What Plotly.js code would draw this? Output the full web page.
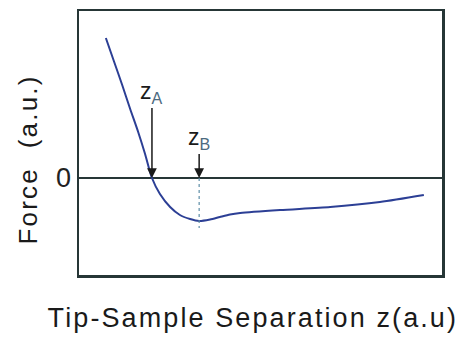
<!DOCTYPE html>
<html><head><meta charset="utf-8">
<script src="https://cdn.plot.ly/plotly-3.0.1.min.js"></script>
<style>
html,body{margin:0;padding:0;background:#fff;}
#chart{width:470px;height:339px;}
.annotation[data-index="0"] text{letter-spacing:2.1px;}
.annotation[data-index="1"] text{letter-spacing:2.2px;}
</style></head>
<body><div id="chart"></div>
<script>
// Tip-sample separation (a.u.) and force (a.u.)
const separation = [7.4, 9.6, 11.9, 14.1, 16.3, 18.2, 20.1, 22.3, 25.1, 27.8, 30.6, 33.1, 36.1, 38.8, 41.6, 44.4, 55.4, 69.2, 82.9, 95.0];
const force      = [14.0, 11.7, 9.3, 6.9, 4.6, 2.4, 0.0, -1.6, -2.9, -3.7, -4.1, -4.3, -4.15, -3.9, -3.65, -3.5, -3.2, -2.9, -2.4, -1.7];
const markerLabels = ["z<sub><span style='color:#4d6a80'>A</span></sub>", "z<sub><span style='color:#4d6a80'>B</span></sub>"];
const markerX = [20.1, 33.1];
const dropLine = [0, -5.0];
const yTickVals = [0];
const yTickText = ["0"];
const xTitle = "Tip-Sample Separation z(a.u)";
const yTitle = "Force  (a.u.)";

const data = [
  {x: separation, y: force, type: 'scatter', mode: 'lines',
   line: {color: '#2c3f95', width: 2, shape: 'spline', smoothing: 0.7}, hoverinfo: 'skip'},
  {x: [markerX[1], markerX[1]], y: dropLine, type: 'scatter', mode: 'lines',
   line: {color: '#5f8fa8', width: 1.2, dash: 'dot'}, hoverinfo: 'skip'}
];

const layout = {
  width: 470, height: 339,
  margin: {l: 79, r: 28, t: 11, b: 64},
  paper_bgcolor: '#ffffff', plot_bgcolor: '#ffffff',
  showlegend: false,
  font: {family: 'Liberation Sans, Arial, sans-serif', color: '#222'},
  xaxis: {range: [0, 100], showgrid: false, zeroline: false, showticklabels: false, ticks: '',
          showline: true, mirror: true, linecolor: '#263636', linewidth: 2.5},
  yaxis: {range: [-9.7, 16.7], showgrid: false, zeroline: true, zerolinecolor: '#263636', zerolinewidth: 2,
          tickvals: yTickVals, ticktext: yTickText, ticks: '',
          tickfont: {size: 27, color: '#222', family: 'Liberation Sans, Arial, sans-serif'},
          showline: true, mirror: true, linecolor: '#263636', linewidth: 2.5},
  annotations: [
    {text: xTitle, xref: 'paper', yref: 'paper', x: 0.48, y: -0.163, xanchor: 'center', yanchor: 'middle',
     showarrow: false, font: {size: 27, color: '#1a1a1a'}},
    {text: yTitle, xref: 'paper', yref: 'paper', x: -0.142, y: 0.44, xanchor: 'center', yanchor: 'middle',
     textangle: -90, showarrow: false, font: {size: 26, color: '#1a1a1a'}},
    {text: markerLabels[0], x: markerX[0], y: 0, xref: 'x', yref: 'y', showarrow: true,
     ax: 0, ay: -86, arrowhead: 2, arrowsize: 1.3, arrowwidth: 1.5, arrowcolor: '#1a1a1a',
     font: {size: 23, color: '#1a1a1a'}},
    {text: markerLabels[1], x: markerX[1], y: 0, xref: 'x', yref: 'y', showarrow: true,
     ax: 0, ay: -40, arrowhead: 2, arrowsize: 1.3, arrowwidth: 1.5, arrowcolor: '#1a1a1a',
     font: {size: 23, color: '#1a1a1a'}}
  ]
};
Plotly.newPlot('chart', data, layout, {staticPlot: true, displayModeBar: false});
</script></body></html>
